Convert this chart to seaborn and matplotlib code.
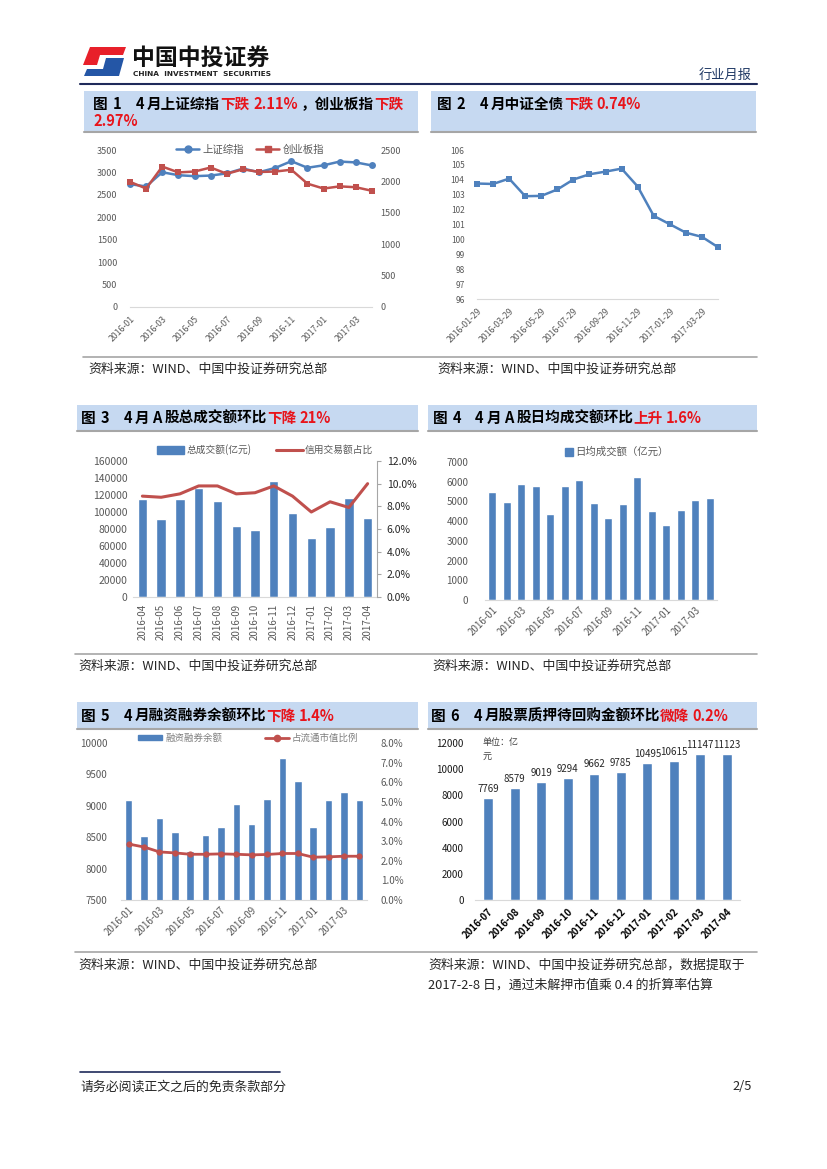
import numpy as np
import pandas as pd
import seaborn as sns
import matplotlib
matplotlib.use('Agg')
from matplotlib import pyplot as plt
from matplotlib.patches import Rectangle, Polygon, Patch
from matplotlib.lines import Line2D
from matplotlib.ticker import FuncFormatter

W, H = 827, 1169
BLUE = '#4F81BD'
RED = '#C0504D'
TXT = '#595959'
HRED = '#E8141B'

# ---- data ----
months16 = ['2016-01', '2016-02', '2016-03', '2016-04', '2016-05', '2016-06',
            '2016-07', '2016-08', '2016-09', '2016-10', '2016-11', '2016-12',
            '2017-01', '2017-02', '2017-03', '2017-04']
sh_index = [2738, 2688, 3004, 2938, 2917, 2930, 2979, 3085, 3005, 3100,
            3250, 3104, 3159, 3242, 3223, 3155]
cyb_index = [1993, 1886, 2236, 2143, 2157, 2221, 2121, 2193, 2150, 2157,
             2186, 1964, 1886, 1921, 1907, 1850]

bond_dates = ['2016-01-29', '2016-02-29', '2016-03-29', '2016-04-29', '2016-05-29',
              '2016-06-29', '2016-07-29', '2016-08-29', '2016-09-29', '2016-10-29',
              '2016-11-29', '2016-12-29', '2017-01-29', '2017-02-28', '2017-03-29',
              '2017-04-29']
bond_index = [103.75, 103.72, 104.08, 102.90, 102.92, 103.35, 104.02, 104.37,
              104.55, 104.75, 103.55, 101.58, 101.02, 100.45, 100.17, 99.48]

turn_months = months16[3:]
turnover = [115500, 92000, 115500, 128000, 113000, 83500, 78500, 137000,
            99000, 69000, 82000, 117000, 93500]
credit_ratio = [0.089, 0.088, 0.091, 0.098, 0.098, 0.091, 0.092, 0.098,
                0.089, 0.075, 0.084, 0.079, 0.100]

daily_turnover = [5480, 4950, 5870, 5780, 4380, 5780, 6100, 4920, 4180, 4880,
                  6230, 4500, 3800, 4540, 5090, 5170]

margin_balance = [9090, 8520, 8800, 8590, 8280, 8530, 8660, 9030, 8710, 9110,
                  9760, 9390, 8670, 9100, 9220, 9090]
margin_ratio = [0.0285, 0.0270, 0.0245, 0.0240, 0.0233, 0.0233, 0.0235, 0.0233,
                0.0230, 0.0232, 0.0237, 0.0237, 0.0218, 0.0220, 0.0223, 0.0223]

pledge_months = months16[6:]
pledge = [7769, 8579, 9019, 9294, 9662, 9785, 10495, 10615, 11147, 11123]

# ---- page ----
sns.set_style('white')
plt.rcParams['font.family'] = ['Noto Sans CJK SC', 'DejaVu Sans']
plt.rcParams['axes.unicode_minus'] = False

fig = plt.figure(figsize=(W / 100, H / 100), dpi=100)
bg = fig.add_axes([0, 0, 1, 1])
bg.set_xlim(0, W)
bg.set_ylim(H, 0)
bg.axis('off')
renderer = fig.canvas.get_renderer()


def ax_px(l, t, r, b):
    ax = fig.add_axes([l / W, 1 - b / H, (r - l) / W, (b - t) / H])
    ax.set_facecolor('none')
    return ax


def rich(x, y, parts, size=10.5, weight='bold'):
    # pieces of text drawn one after the other, a number means a gap in pixels
    for s, c in parts:
        if isinstance(s, (int, float)):
            x += s
            continue
        t = bg.text(x, y, s, color=c, fontsize=size, fontweight=weight,
                    va='center', ha='left')
        x += t.get_window_extent(renderer).width


def title_box(l, t, r, b):
    bg.add_patch(Rectangle((l, t), r - l, b - t, color='#C6D9F1', lw=0))
    bg.plot([l, r], [b, b], color='#A6A6A6', lw=1.5)


def style(ax, size=6.5, color=TXT):
    for s in ax.spines.values():
        s.set_visible(False)
    ax.spines['bottom'].set_visible(True)
    ax.spines['bottom'].set_color('#D9D9D9')
    ax.tick_params(axis='both', labelsize=size, labelcolor=color, length=0)
    ax.set_xlabel('')
    ax.set_ylabel('')


pct = FuncFormatter(lambda v, p: '%.1f%%' % (v * 100))

# header
bg.add_patch(Polygon([(90, 47), (126, 47), (123, 55), (100, 55), (97, 65), (83, 65)],
                     color='#E8202A', lw=0))
bg.add_patch(Polygon([(106, 58), (124, 58), (119, 76), (84, 76), (87, 69), (103, 69)],
                     color='#2456A6', lw=0))
bg.text(132, 58, '中国中投证券', fontsize=16.5, fontweight='bold', va='center', color='#111111')
bg.text(133, 74, 'CHINA  INVESTMENT  SECURITIES', fontsize=5.3, fontweight='bold',
        va='center', color='#222222', family='DejaVu Sans')
bg.text(752, 75, '行业月报', fontsize=9.5, ha='right', va='center', color='#1F3864')
bg.plot([80, 757], [84, 84], color='#1F2A5A', lw=1.5)

# title boxes and titles
title_box(84, 91, 418, 132)
title_box(431, 91, 756, 132)
rich(93, 104, [('图', 'black'), (5, None), ('1', 'black'), (14, None), ('4', 'black'),
               (3, None), ('月上证综指', 'black'), ('下跌', HRED), (4, None), ('2.11%', HRED),
               (3, None), ('，创业板指', 'black'), ('下跌', HRED)])
rich(93, 121, [('2.97%', HRED)])
rich(437, 104, [('图', 'black'), (5, None), ('2', 'black'), (14, None), ('4', 'black'),
                (3, None), ('月中证全债', 'black'), ('下跌', HRED), (3, None), ('0.74%', HRED)])

title_box(77, 405, 418, 431)
title_box(428, 405, 757, 431)
rich(81, 418, [('图', 'black'), (5, None), ('3', 'black'), (14, None), ('4', 'black'),
               (3, None), ('月', 'black'), (3, None), ('A', 'black'), (3, None),
               ('股总成交额环比', 'black'), ('下降', HRED), (3, None), ('21%', HRED)])
rich(433, 418, [('图', 'black'), (5, None), ('4', 'black'), (14, None), ('4', 'black'),
                (3, None), ('月', 'black'), (3, None), ('A', 'black'), (3, None),
                ('股日均成交额环比', 'black'), ('上升', HRED), (3, None), ('1.6%', HRED)])

title_box(77, 702, 418, 729)
title_box(428, 702, 757, 729)
rich(81, 716, [('图', 'black'), (5, None), ('5', 'black'), (14, None), ('4', 'black'),
               (3, None), ('月融资融券余额环比', 'black'), ('下降', HRED), (3, None), ('1.4%', HRED)])
rich(431, 716, [('图', 'black'), (5, None), ('6', 'black'), (14, None), ('4', 'black'),
                (3, None), ('月股票质押待回购金额环比', 'black'), ('微降', HRED), (3, None),
                ('0.2%', HRED)])

# separators and sources
for y0, x0 in [(357, 83), (654, 75), (952, 75)]:
    bg.plot([x0, 757], [y0, y0], color='#A6A6A6', lw=1.2)
src = '资料来源：WIND、中国中投证券研究总部'
bg.text(88, 369, src, fontsize=9.3, va='center')
bg.text(437, 369, src, fontsize=9.3, va='center')
bg.text(78, 666, src, fontsize=9.3, va='center')
bg.text(432, 666, src, fontsize=9.3, va='center')
bg.text(78, 965, src, fontsize=9.3, va='center')
bg.text(428, 965, src + '，数据提取于', fontsize=9.3, va='center')
bg.text(428, 985, '2017-2-8 日，通过未解押市值乘 0.4 的折算率估算', fontsize=9.3, va='center')

# footer
bg.plot([80, 280], [1072, 1072], color='#1F2A5A', lw=1.2)
bg.text(80, 1087, '请务必阅读正文之后的免责条款部分', fontsize=9.3, va='center')
bg.text(752, 1087, '2/5', fontsize=9.3, va='center', ha='right')

# ---- Figure 1 ----
df1 = pd.DataFrame({'idx': range(16), 'sh': sh_index, 'cyb': cyb_index})
ax1 = ax_px(130, 150, 372, 307)
sns.lineplot(data=df1, x='idx', y='sh', ax=ax1, color=BLUE, lw=1.8, marker='o',
             markersize=5, markeredgewidth=0, clip_on=False)
ax1.set_ylim(0, 3500)
ax1.set_yticks(range(0, 3501, 500))
style(ax1)
ax1.tick_params(axis='y', pad=9)
ax1b = ax1.twinx()
sns.lineplot(data=df1, x='idx', y='cyb', ax=ax1b, color=RED, lw=1.8, marker='s',
             markersize=5, markeredgewidth=0, clip_on=False)
ax1b.set_ylim(0, 2500)
ax1b.set_yticks(range(0, 2501, 500))
style(ax1b)
ax1b.spines['bottom'].set_visible(False)
ax1b.tick_params(axis='y', pad=6)
ax1.set_xlim(0, 15)
ax1.set_xticks(range(0, 16, 2))
ax1.set_xticklabels(months16[::2], rotation=45, ha='right', rotation_mode='anchor', fontsize=6.3)
ax1.tick_params(axis='x', length=3, color='#D9D9D9', pad=2)
ax1.legend(handles=[Line2D([], [], color=BLUE, lw=1.8, marker='o', markersize=5),
                    Line2D([], [], color=RED, lw=1.8, marker='s', markersize=5)],
           labels=['上证综指', '创业板指'], loc='center', ncol=2, frameon=False,
           fontsize=7.5, labelcolor=TXT, handlelength=2.2, columnspacing=1.2,
           handletextpad=0.3, bbox_to_anchor=(250 / W, 1 - 150 / H),
           bbox_transform=fig.transFigure)

# ---- Figure 2 ----
df2 = pd.DataFrame({'idx': range(16), 'bond': bond_index})
ax2 = ax_px(477, 150, 718, 299)
sns.lineplot(data=df2, x='idx', y='bond', ax=ax2, color=BLUE, lw=1.8, marker='s',
             markersize=5, markeredgewidth=0, clip_on=False)
ax2.set_ylim(96, 106)
ax2.set_yticks(range(96, 107))
ax2.set_xlim(0, 15)
style(ax2, size=6)
ax2.tick_params(axis='y', pad=9)
ax2.set_xticks(range(0, 16, 2))
ax2.set_xticklabels(bond_dates[::2], rotation=45, ha='right', rotation_mode='anchor', fontsize=6.3)
ax2.tick_params(axis='x', length=3, color='#D9D9D9', pad=2)

# ---- Figure 3 ----
df3 = pd.DataFrame({'month': turn_months, 'turnover': turnover, 'ratio': credit_ratio})
ax3 = ax_px(133, 461, 377, 597)
sns.barplot(data=df3, x='month', y='turnover', ax=ax3, color=BLUE, saturation=1, width=0.5)
ax3.set_ylim(0, 160000)
ax3.set_yticks(range(0, 160001, 20000))
style(ax3, size=7.5)
ax3.tick_params(axis='y', pad=4)
ax3.tick_params(axis='x', rotation=90, labelsize=7, pad=5)
ax3b = ax3.twinx()
sns.lineplot(x=np.arange(13), y=credit_ratio, ax=ax3b, color=RED, lw=2.2)
ax3b.set_ylim(0, 0.12)
ax3b.set_yticks(np.arange(0, 0.121, 0.02))
ax3b.yaxis.set_major_formatter(pct)
style(ax3b, size=7.5, color='#262626')
ax3b.spines['bottom'].set_visible(False)
ax3b.spines['right'].set_visible(True)
ax3b.spines['right'].set_color('#A6A6A6')
ax3b.tick_params(axis='y', length=3, color='#A6A6A6', direction='out', pad=4)
ax3.set_xlim(-0.5, 12.5)
ax3.legend(handles=[Patch(color=BLUE), Line2D([], [], color=RED, lw=2.2)],
           labels=['总成交额(亿元)', '信用交易额占比'], loc='center', ncol=2, frameon=False,
           fontsize=7, labelcolor=TXT, handlelength=2.8, handleheight=0.9,
           columnspacing=2.5, handletextpad=0.2,
           bbox_to_anchor=(265 / W, 1 - 450 / H), bbox_transform=fig.transFigure)

# ---- Figure 4 ----
df4 = pd.DataFrame({'month': months16, 'daily': daily_turnover})
ax4 = ax_px(485, 462, 717, 600)
sns.barplot(data=df4, x='month', y='daily', ax=ax4, color=BLUE, saturation=1, width=0.57)
ax4.set_ylim(0, 7000)
ax4.set_yticks(range(0, 7001, 1000))
style(ax4, size=7)
ax4.tick_params(axis='y', pad=12)
ax4.set_xlim(-0.5, 15.5)
ax4.set_xticks(range(0, 16, 2))
ax4.set_xticklabels(months16[::2], rotation=45, ha='right', rotation_mode='anchor', fontsize=7)
ax4.legend(handles=[Patch(color=BLUE)], labels=['日均成交额（亿元）'], loc='center',
           frameon=False, fontsize=7.5, labelcolor=TXT, handlelength=0.8,
           handleheight=0.8, handletextpad=0.2,
           bbox_to_anchor=(617 / W, 1 - 452 / H), bbox_transform=fig.transFigure)

# ---- Figure 5 ----
df5 = pd.DataFrame({'month': months16, 'bal': margin_balance, 'ratio': margin_ratio})
ax5 = ax_px(121, 743, 367, 900)
sns.barplot(data=df5, x='month', y='bal', ax=ax5, color=BLUE, saturation=1, width=0.48)
ax5.set_ylim(7500, 10000)
ax5.set_yticks(range(7500, 10001, 500))
style(ax5, size=7)
ax5.tick_params(axis='y', pad=10)
ax5b = ax5.twinx()
sns.lineplot(x=np.arange(16), y=margin_ratio, ax=ax5b, color=RED, lw=2, marker='o',
             markersize=4.5, markeredgewidth=0)
ax5b.set_ylim(0, 0.08)
ax5b.set_yticks(np.arange(0, 0.081, 0.01))
ax5b.yaxis.set_major_formatter(pct)
style(ax5b, size=7)
ax5b.spines['bottom'].set_visible(False)
ax5b.tick_params(axis='y', pad=10)
ax5.set_xlim(-0.5, 15.5)
ax5.set_xticks(range(0, 16, 2))
ax5.set_xticklabels(months16[::2], rotation=45, ha='right', rotation_mode='anchor', fontsize=7)
ax5.legend(handles=[Patch(color=BLUE), Line2D([], [], color=RED, lw=2, marker='o', markersize=4.5)],
           labels=['融资融券余额', '占流通市值比例'], loc='center', ncol=2, frameon=False,
           fontsize=6.8, labelcolor='#7F7F7F', handlelength=2.6, handleheight=0.6,
           columnspacing=4.5, handletextpad=0.3,
           bbox_to_anchor=(248 / W, 1 - 738 / H), bbox_transform=fig.transFigure)

# ---- Figure 6 ----
df6 = pd.DataFrame({'month': pledge_months, 'pledge': pledge})
ax6 = ax_px(475, 743, 740, 900)
sns.barplot(data=df6, x='month', y='pledge', ax=ax6, color=BLUE, saturation=1, width=0.38)
ax6.set_ylim(0, 12000)
ax6.set_yticks(range(0, 12001, 2000))
style(ax6, size=7, color='#1A1A1A')
ax6.tick_params(axis='y', pad=8)
ax6.set_xlim(-0.5, 9.5)
ax6.set_xticks(range(10))
ax6.set_xticklabels(pledge_months, rotation=45, ha='right', rotation_mode='anchor',
                    fontsize=7, fontweight='bold', color='black')
ax6.tick_params(axis='x', length=3, color='#D9D9D9', pad=2)
ax6.bar_label(ax6.containers[0], labels=[str(v) for v in pledge], fontsize=7,
              padding=3, color='#262626')
ax6.text(0.03, 1.0, '单位：亿', transform=ax6.transAxes, fontsize=6.5, va='center', color='#404040')
ax6.text(0.03, 0.91, '元', transform=ax6.transAxes, fontsize=6.5, va='center', color='#404040')

fig.savefig('out.png', dpi=100)
